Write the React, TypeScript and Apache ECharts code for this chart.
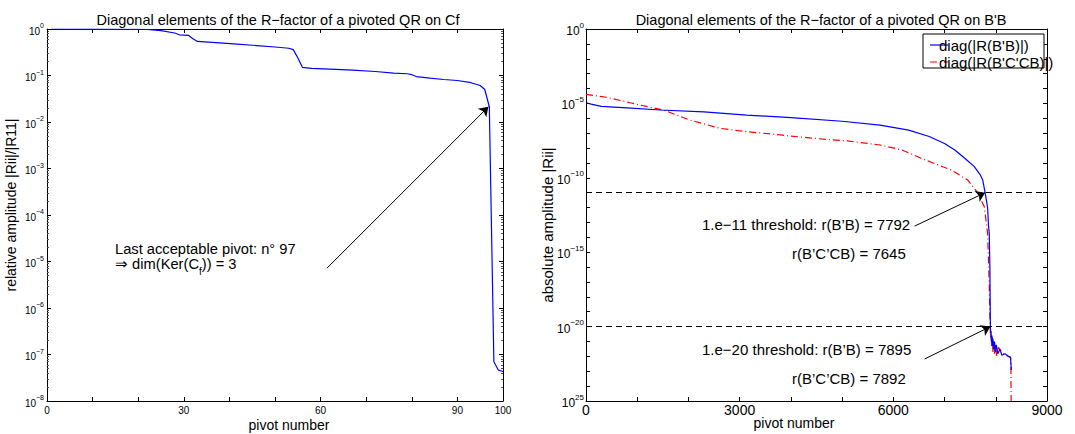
import React, { useEffect, useRef } from "react";
import * as echarts from "echarts";

// ---------- data ----------
const leftPivots = [1, 10, 20, 22, 25, 28, 29, 31, 32, 33, 37, 41, 46, 50, 53, 54, 55, 56, 58, 62, 67, 72, 76, 79, 80, 81, 84, 87, 90, 93, 95, 96, 97, 98, 99, 100];
const leftValues = [1, 0.995, 0.985, 0.975, 0.92, 0.82, 0.75, 0.73, 0.62, 0.54, 0.51, 0.48, 0.44, 0.41, 0.385, 0.36, 0.24, 0.15, 0.142, 0.137, 0.13, 0.122, 0.113, 0.109, 0.104, 0.095, 0.088, 0.082, 0.078, 0.07, 0.061, 0.05, 0.0213, 7e-8, 4.6e-8, 4.3e-8];

const bluePivots = [0, 100, 300, 800, 1450, 2300, 3140, 4000, 5000, 5740, 6300, 6700, 7000, 7200, 7400, 7580, 7700, 7745, 7792, 7840, 7860, 7872, 7885, 7895, 7905, 7915, 7925, 7935, 7945, 7960, 7975, 7990, 8010, 8040, 8080, 8120, 8180, 8250, 8288, 8296, 8305];
const blueValues = [1.1e-5, 9e-6, 6.3e-6, 5e-6, 3.6e-6, 2.7e-6, 1.65e-6, 1.1e-6, 6.3e-7, 3.5e-7, 1.6e-7, 6e-8, 2e-8, 7.4e-9, 2e-9, 5.6e-10, 1.5e-10, 7e-11, 1e-11, 1e-12, 5e-14, 2e-14, 1e-16, 8e-21, 3e-21, 1e-21, 2.5e-21, 5e-22, 1.5e-21, 3e-22, 1e-21, 2e-22, 6e-22, 1.5e-22, 3e-22, 1.2e-22, 1.5e-22, 1e-22, 9e-23, 3e-23, 1.2e-23];

const redPivots = [0, 400, 860, 1200, 1510, 2030, 2620, 3140, 3790, 4440, 5100, 5740, 6170, 6620, 7135, 7455, 7645, 7776, 7840, 7872, 7892, 7900, 7910, 7920, 7930, 7945, 7960, 7975, 7995, 8020, 8050, 8096, 8150, 8200, 8288, 8296, 8300];
const redValues = [4e-5, 2.6e-5, 1.1e-5, 6e-6, 3.6e-6, 7.6e-7, 2.1e-7, 1.26e-7, 7.6e-8, 4.5e-8, 3e-8, 1.6e-8, 7.4e-9, 1.6e-9, 3.3e-10, 7e-11, 1e-11, 1.15e-12, 2e-14, 8e-18, 7e-21, 1.5e-21, 5e-21, 4e-22, 2e-21, 2e-22, 1e-21, 1.5e-22, 6e-22, 1e-22, 4e-22, 2.5e-22, 1.5e-22, 1.2e-22, 8e-23, 1e-23, 1e-25];

const leftXTickLabels = [0, 30, 60, 90, 100];
const rightXTickLabels = [0, 3000, 6000, 9000];
const rightYLabelStep = 5;

const thresholds = [1e-11, 1e-20];
const leftArrow = [[61.4, 7.2e-6], [96.8, 0.0213]];
const rightArrows = [
  [[6417, 5.7e-14], [7792, 1e-11]],
  [[6609, 6.6e-23], [7895, 1e-20]],
];

const titleLeft = "Diagonal elements of the R\u2212factor of a pivoted QR on Cf";
const titleRight = "Diagonal elements of the R\u2212factor of a pivoted QR on B'B";
const legendNames = ["diag(|R(B'B)|)", "diag(|R(B'C'CB)|)"];

// ---------- helpers ----------
const FONT = "'Liberation Sans', Arial, Helvetica, sans-serif";

function expText(e: number, glitchBottom: boolean) {
  let s: string;
  if (e === 0) s = "0";
  else if (glitchBottom && e === -25) s = "25";
  else s = e < 0 ? "\u2212" + -e : String(e);
  return "{b|10}{s|" + s + "}";
}

const lg = (v: number) => Math.log10(v);
const pairs = (xs: number[], ys: number[]) => xs.map((x, i) => [x, ys[i]]);
const logPairs = (xs: number[], ys: number[]) => xs.map((x, i) => [x, lg(ys[i])]);

const axisLine = { show: true, onZero: false, lineStyle: { color: "#000", width: 1 } };
const axisTick = { show: true, inside: true, length: 4, lineStyle: { color: "#000", width: 1 } };

export default function App() {
  const ref = useRef<HTMLDivElement>(null);
  useEffect(() => {
    if (!ref.current) return;
    const chart = echarts.init(ref.current, undefined, { renderer: "svg" });

    const richSmall = {
      b: { fontSize: 10, fontFamily: FONT, color: "#000", lineHeight: 14, verticalAlign: "bottom" },
      s: { fontSize: 7, fontFamily: FONT, color: "#000", lineHeight: 8, verticalAlign: "top" },
    };
    const richBig = {
      b: { fontSize: 12, fontFamily: FONT, color: "#000", lineHeight: 16, verticalAlign: "bottom" },
      s: { fontSize: 8, fontFamily: FONT, color: "#000", lineHeight: 9, verticalAlign: "top" },
    };

    const arrowMark = (pts: number[][], logY: boolean) => [
      { coord: [pts[0][0], logY ? lg(pts[0][1]) : pts[0][1]] },
      { coord: [pts[1][0], logY ? lg(pts[1][1]) : pts[1][1]] },
    ];

    const txt = (x: number, y: number, text: string, size: number, align = "left", extra: any = {}) => ({
      type: "text", x, y, ...extra,
      style: { text, font: `${size}px ${FONT}`, fill: "#000", textAlign: align, textVerticalAlign: "middle" },
    });

    const option: any = {
      animation: false,
      backgroundColor: "#fff",
      grid: [
        { left: 47, top: 29, width: 456, height: 372 },
        { left: 586, top: 29, width: 461, height: 372 },
      ],
      xAxis: [
        {
          gridIndex: 0, type: "value", position: "bottom", min: 0, max: 100, interval: 10,
          axisLine, axisTick, splitLine: { show: false },
          axisLabel: {
            margin: 4, fontSize: 10, fontFamily: FONT, color: "#000", showMaxLabel: true,
            formatter: (v: number) => (leftXTickLabels.includes(v) ? String(v) : ""),
          },
        },
        {
          gridIndex: 0, type: "value", position: "top", min: 0, max: 100, interval: 10,
          axisLine, axisTick, splitLine: { show: false }, axisLabel: { show: false },
        },
        {
          gridIndex: 1, type: "value", position: "bottom", min: 0, max: 9000, interval: 1000,
          axisLine, axisTick, splitLine: { show: false },
          axisLabel: {
            margin: 2, fontSize: 14, fontFamily: FONT, color: "#000", showMaxLabel: true,
            formatter: (v: number) => (rightXTickLabels.includes(v) ? String(v) : ""),
          },
        },
        {
          gridIndex: 1, type: "value", position: "top", min: 0, max: 9000, interval: 1000,
          axisLine, axisTick, splitLine: { show: false }, axisLabel: { show: false },
        },
      ],
      yAxis: [
        {
          gridIndex: 0, type: "log", logBase: 10, position: "left", min: 1e-8, max: 1, interval: 1,
          axisLine, axisTick, splitLine: { show: false },
          minorTick: { show: true, splitNumber: 9, length: 2, lineStyle: { color: "#555", width: 1 } },
          axisLabel: { margin: 3, formatter: (v: number) => expText(Math.round(lg(v)), false), rich: richSmall },
        },
        {
          gridIndex: 0, type: "log", logBase: 10, position: "right", min: 1e-8, max: 1, interval: 1,
          axisLine, axisTick, splitLine: { show: false },
          minorTick: { show: true, splitNumber: 9, length: 2, lineStyle: { color: "#555", width: 1 } },
          axisLabel: { show: false },
        },
        {
          gridIndex: 1, type: "value", position: "left", min: -25, max: 0, interval: 1,
          axisLine, axisTick, splitLine: { show: false },
          axisLabel: {
            margin: 2, rich: richBig, showMinLabel: true, showMaxLabel: true,
            formatter: (v: number) => {
              const e = Math.round(v);
              return e % rightYLabelStep === 0 ? expText(e, true) : "";
            },
          },
        },
        {
          gridIndex: 1, type: "value", position: "right", min: -25, max: 0, interval: 1,
          axisLine, axisTick, splitLine: { show: false }, axisLabel: { show: false },
        },
      ],
      series: [
        {
          type: "line", xAxisIndex: 0, yAxisIndex: 0, data: pairs(leftPivots, leftValues),
          showSymbol: false, symbol: "none", lineStyle: { color: "#0000ff", width: 1.2 },
          markLine: {
            silent: true, symbol: ["none", "arrow"], symbolSize: 9,
            label: { show: false },
            itemStyle: { color: "#000" },
            lineStyle: { color: "#000", width: 1, type: "solid" },
            data: [arrowMark(leftArrow, false)],
          },
        },
        {
          type: "line", xAxisIndex: 2, yAxisIndex: 2, data: logPairs(bluePivots, blueValues),
          showSymbol: false, symbol: "none", lineStyle: { color: "#0000ff", width: 1.2 }, z: 3,
          markLine: {
            silent: true, symbol: ["none", "arrow"], symbolSize: 9,
            label: { show: false },
            itemStyle: { color: "#000" },
            lineStyle: { color: "#000", width: 1, type: "solid" },
            data: rightArrows.map((a) => arrowMark(a, true)),
          },
        },
        {
          type: "line", xAxisIndex: 2, yAxisIndex: 2, data: logPairs(redPivots, redValues),
          showSymbol: false, symbol: "none", lineStyle: { color: "#ff0000", width: 1.2, type: [7, 3, 1, 3] }, z: 2,
          markLine: {
            silent: true, symbol: ["none", "none"],
            label: { show: false },
            lineStyle: { color: "#000", width: 1, type: [6, 4] },
            data: thresholds.map((t) => ({ yAxis: lg(t) })),
          },
        },
      ],
      graphic: [
        txt(278, 20, titleLeft, 14.5, "center"),
        txt(821, 20, titleRight, 14.5, "center"),
        txt(289, 425, "pivot number", 14, "center"),
        txt(794, 423, "pivot number", 14, "center"),
        txt(11, 205, "relative amplitude |Rii|/|R11|", 14, "center", { rotation: Math.PI / 2 }),
        txt(547, 225, "absolute amplitude |Rii|", 15, "center", { rotation: Math.PI / 2 }),
        txt(115, 249, "Last acceptable pivot: n\u00b0 97", 14.7),
        {
          type: "text", x: 115, y: 266,
          style: {
            text: "{n|\u21d2 dim(Ker(C}{sub|f}{n|)) = 3}", textAlign: "left", textVerticalAlign: "middle", fill: "#000",
            rich: {
              n: { fontSize: 14.7, fontFamily: FONT, fill: "#000", color: "#000", lineHeight: 16, verticalAlign: "top" },
              sub: { fontSize: 10, fontFamily: FONT, fill: "#000", color: "#000", lineHeight: 20, verticalAlign: "bottom" },
            },
          },
        },
        txt(702, 224, "1.e\u221211 threshold: r(B\u2019B) = 7792", 15),
        txt(792, 253, "r(B\u2019C\u2019CB) = 7645", 15),
        txt(702, 349, "1.e\u221220 threshold: r(B\u2019B) = 7895", 15),
        txt(792, 378, "r(B\u2019C\u2019CB) = 7892", 15),
        // legend
        { type: "rect", shape: { x: 923, y: 34, width: 121, height: 34 }, style: { fill: "#fff", stroke: "#000", lineWidth: 1 }, z: 10 },
        { type: "line", shape: { x1: 930, y1: 45, x2: 948, y2: 45 }, style: { stroke: "#0000ff", lineWidth: 1.2 }, z: 11 },
        { type: "line", shape: { x1: 930, y1: 62, x2: 948, y2: 62 }, style: { stroke: "#ff0000", lineWidth: 1.2, lineDash: [7, 3, 1, 3] }, z: 11 },
        { ...txt(939, 45, legendNames[0], 15), z: 12 },
        { ...txt(939, 62, legendNames[1], 15), z: 12 },
      ],
    };

    chart.setOption(option);
    return () => chart.dispose();
  }, []);

  return (
    <div
      ref={ref}
      style={{ position: "fixed", left: 0, top: 0, width: 1075, height: 434, background: "#fff" }}
    />
  );
}
